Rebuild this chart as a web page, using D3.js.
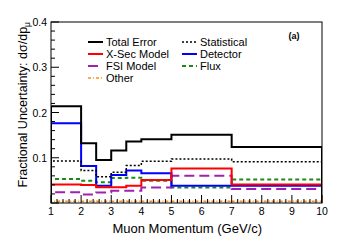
<!DOCTYPE html>
<html>
<head>
<meta charset="utf-8">
<script src="https://cdn.jsdelivr.net/npm/d3@7"></script>
<style>
body { margin: 0; background: #fff; }
text { font-family: "Liberation Sans", Arial, sans-serif; }
</style>
</head>
<body>
<svg width="339" height="241"></svg>
<script>
// bin edges (GeV/c) and fractional uncertainty per bin
var binEdges = [1, 2, 2.5, 3, 3.5, 4, 5, 7, 10];
var totalError  = [0.214, 0.132, 0.095, 0.116, 0.136, 0.141, 0.151, 0.124];
var statistical = [0.093, 0.072, 0.058, 0.068, 0.083, 0.092, 0.097, 0.091];
var xsecModel   = [0.041, 0.040, 0.035, 0.035, 0.038, 0.051, 0.076, 0.041];
var detector    = [0.176, 0.082, 0.038, 0.062, 0.072, 0.066, 0.038, 0.038];
var fsiModel    = [0.024, 0.019, 0.023, 0.027, 0.027, 0.034, 0.060, 0.031];
var flux        = [0.053, 0.049, 0.046, 0.055, 0.056, 0.049, 0.034, 0.052];
var other       = [0.004, 0.004, 0.004, 0.004, 0.004, 0.004, 0.004, 0.004];
var xTicks = [1, 2, 3, 4, 5, 6, 7, 8, 9, 10];
var yTicks = [0.1, 0.2, 0.3, 0.4];

var svg = d3.select("svg"),
    margin = {top: 22, right: 17, bottom: 38, left: 51},
    width = 339 - margin.left - margin.right,
    height = 241 - margin.top - margin.bottom;
var g = svg.append("g").attr("transform", "translate(" + margin.left + "," + margin.top + ")");

var x = d3.scaleLinear().domain([1, 10]).range([0, width]);
var y = d3.scaleLinear().domain([0, 0.4]).range([height, 0]);

g.append("clipPath").attr("id", "clip")
    .append("rect").attr("width", width).attr("height", height);

var series = [
    {name: "Total Error",  values: totalError,  color: "#000000", w: 2,   dash: null},
    {name: "Statistical",  values: statistical, color: "#000000", w: 1.5, dash: "2,2"},
    {name: "X-Sec Model",  values: xsecModel,   color: "#ff0000", w: 2,   dash: null},
    {name: "Detector",     values: detector,    color: "#0000ff", w: 2,   dash: null},
    {name: "FSI Model",    values: fsiModel,    color: "#a020b0", w: 2,   dash: "10,5"},
    {name: "Flux",         values: flux,        color: "#1a8a1a", w: 2,   dash: "4,3"},
    {name: "Other",        values: other,       color: "#ff8c1a", w: 1.5, dash: "3,2,1,2"}
];

var step = d3.line()
    .x(function(d) { return x(d[0]); })
    .y(function(d) { return y(d[1]); })
    .curve(d3.curveStepAfter);

function histPoints(vals) {
    var pts = [[binEdges[0], 0]];
    vals.forEach(function(v, i) { pts.push([binEdges[i], v]); });
    pts.push([binEdges[binEdges.length - 1], vals[vals.length - 1]]);
    pts.push([binEdges[binEdges.length - 1], 0]);
    return pts;
}

var lines = g.append("g").attr("clip-path", "url(#clip)");
series.slice().reverse().forEach(function(s) {
    lines.append("path")
        .attr("fill", "none")
        .attr("stroke", s.color)
        .attr("stroke-width", s.w)
        .attr("stroke-dasharray", s.dash)
        .attr("d", step(histPoints(s.values)));
});

// frame
g.append("rect")
    .attr("width", width).attr("height", height)
    .attr("fill", "none").attr("stroke", "#000").attr("stroke-width", 1);

// x ticks (inward)
var xMinor = d3.range(1, 10.001, 0.2);
g.selectAll(".xminor").data(xMinor).enter().append("line")
    .attr("x1", function(d) { return x(d); }).attr("x2", function(d) { return x(d); })
    .attr("y1", height).attr("y2", function(d) {
        return Math.abs(d - Math.round(d)) < 1e-6 ? height - 8 : height - 4;
    })
    .attr("stroke", "#000").attr("stroke-width", 1);
g.selectAll(".xlab").data(xTicks).enter().append("text")
    .attr("x", function(d) { return x(d); })
    .attr("y", height + 12)
    .attr("text-anchor", "middle")
    .style("font-size", "10.5px")
    .text(function(d) { return d; });

// y ticks (inward)
var yMinor = d3.range(0, 0.4001, 0.02);
g.selectAll(".yminor").data(yMinor).enter().append("line")
    .attr("y1", function(d) { return y(d); }).attr("y2", function(d) { return y(d); })
    .attr("x1", 0).attr("x2", function(d, i) { return i % 5 === 0 ? 8 : 4; })
    .attr("stroke", "#000").attr("stroke-width", 1);
g.selectAll(".ylab").data(yTicks).enter().append("text")
    .attr("x", -4)
    .attr("y", function(d) { return y(d) + 4; })
    .attr("text-anchor", "end")
    .style("font-size", "10.5px")
    .text(function(d) { return d.toFixed(1); });

// axis titles
svg.append("text")
    .attr("x", 262).attr("y", 233)
    .attr("text-anchor", "end")
    .style("font-size", "13px")
    .text("Muon Momentum (GeV/c)");

var yt = svg.append("text")
    .attr("transform", "translate(27,22) rotate(-90)")
    .attr("text-anchor", "end")
    .style("font-size", "12.5px");
yt.append("tspan").text("Fractional Uncertainty: d\u03c3/dp");
yt.append("tspan").attr("dy", 3).style("font-size", "8.5px").text("\u03bc");

// label
svg.append("text")
    .attr("x", 294).attr("y", 39)
    .attr("text-anchor", "middle")
    .style("font-size", "9px").style("font-weight", "bold")
    .text("(a)");

// legend
var legend = svg.append("g").attr("class", "legend");
var legendPos = [[88, 42], [182, 42], [88, 54], [182, 54], [88, 66], [182, 66], [88, 78]];
series.forEach(function(s, i) {
    var p = legendPos[i];
    legend.append("line")
        .attr("x1", p[0]).attr("x2", p[0] + 15)
        .attr("y1", p[1]).attr("y2", p[1])
        .attr("stroke", s.color)
        .attr("stroke-width", s.w)
        .attr("stroke-dasharray", s.dash);
    legend.append("text")
        .attr("x", p[0] + 18).attr("y", p[1] + 4)
        .style("font-size", "11px")
        .text(s.name);
});
</script>
</body>
</html>
